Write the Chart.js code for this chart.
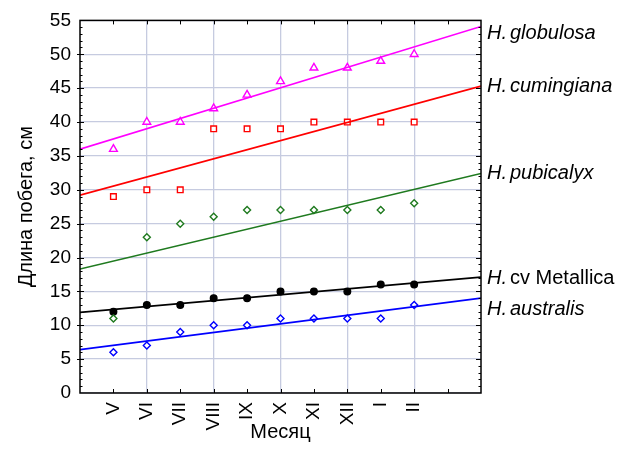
<!DOCTYPE html>
<html>
<head>
<meta charset="utf-8">
<script src="https://cdn.jsdelivr.net/npm/chart.js@4"></script>
<style>
  html, body { margin: 0; padding: 0; background: #fff; }
  #wrap { width: 624px; height: 459px; }
</style>
</head>
<body>
<div id="wrap"><canvas id="myChart"></canvas></div>
<script>
// months, V (May) .. II (February)
const months = ["V", "VI", "VII", "VIII", "IX", "X", "XI", "XII", "I", "II"];
const monthPos = [1, 2, 3, 4, 5, 6, 7, 8, 9, 10];

const species = ["globulosa", "cumingiana", "pubicalyx", "cv Metallica", "australis"];

// shoot length, cm
const globulosa  = [36, 40, 40, 42, 44, 46, 48, 48, 49, 50];
const cumingiana = [29, 30, 30, 39, 39, 39, 40, 40, 40, 40];
const pubicalyx  = [11, 23, 25, 26, 27, 27, 27, 27, 27, 28];
const metallica  = [12, 13, 13, 14, 14, 15, 15, 15, 16, 16];
const australis  = [6, 7, 9, 10, 10, 11, 11, 11, 11, 13];

// fitted trend lines, read at the axis edges (x = 0 and x = 12)
const fitX = [0, 12];
const fitGlobulosa  = [36.0, 54.1];
const fitCumingiana = [29.2, 45.3];
const fitPubicalyx  = [18.3, 32.4];
const fitMetallica  = [11.9, 17.1];
const fitAustralis  = [6.4, 14.0];

const yTicks = [0, 5, 10, 15, 20, 25, 30, 35, 40, 45, 50, 55];

const colors = ["#ff00ff", "#ff0000", "#1f7a1f", "#000000", "#0000ff"];
const gridColor = "#c6cbe0";

function pts(vals) {
  return vals.map((v, i) => ({ x: monthPos[i], y: v }));
}
function fit(vals) {
  return vals.map((v, i) => ({ x: fitX[i], y: v }));
}

const series = [globulosa, cumingiana, pubicalyx, metallica, australis];
const fits = [fitGlobulosa, fitCumingiana, fitPubicalyx, fitMetallica, fitAustralis];
const marks = ["triangle", "rect", "rectRot", "circle", "rectRot"];
const markSize = [4.5, 4, 3.5, 3.3, 3.5];
const filled = [false, false, false, true, false];

const datasets = [];
series.forEach((s, i) => {
  datasets.push({
    type: "line",
    data: fit(fits[i]),
    borderColor: colors[i],
    borderWidth: 1.6,
    pointRadius: 0,
    fill: false
  });
});
series.forEach((s, i) => {
  datasets.push({
    type: "scatter",
    data: pts(s),
    pointStyle: marks[i],
    pointRadius: markSize[i],
    borderColor: colors[i],
    backgroundColor: filled[i] ? colors[i] : "#ffffff",
    pointBorderWidth: 1.4
  });
});

const family = "'Liberation Sans', Arial, sans-serif";

// frame, tick marks and species names at the right end of each line
const framePlugin = {
  id: "frame",
  afterDraw(chart) {
    const { ctx, chartArea: a, scales } = chart;
    const xs = scales.x, ys = scales.y;
    ctx.save();
    ctx.strokeStyle = "#000";
    ctx.lineWidth = 1;
    ctx.beginPath();
    for (let v = 1; v < 12; v++) {
      const px = Math.round(xs.getPixelForValue(v)) + 0.5;
      ctx.moveTo(px, a.top); ctx.lineTo(px, a.top + 4);
      ctx.moveTo(px, a.bottom); ctx.lineTo(px, a.bottom - 4);
    }
    for (let v = 1; v < 55; v++) {
      const py = Math.round(ys.getPixelForValue(v)) + 0.5;
      const major = v % 5 === 0;
      ctx.moveTo(a.right, py); ctx.lineTo(a.right - (major ? 5 : 2.5), py);
      if (major) { ctx.moveTo(a.left - 3, py); ctx.lineTo(a.left + 4, py); }
      else { ctx.moveTo(a.left, py); ctx.lineTo(a.left + 2.5, py); }
    }
    ctx.stroke();
    ctx.lineWidth = 1.5;
    ctx.strokeRect(a.left, a.top, a.right - a.left, a.bottom - a.top);

    const nudge = [7, 0, 0, 1, 11];
    ctx.fillStyle = "#000";
    ctx.textBaseline = "middle";
    ctx.textAlign = "left";
    fits.forEach((f, i) => {
      const y = ys.getPixelForValue(f[1]) + nudge[i];
      let x = a.right + 6;
      ctx.font = "italic 20px " + family;
      ctx.fillText("H.", x, y);
      x += ctx.measureText("H.").width + 3;
      const name = species[i];
      if (name.startsWith("cv ")) {
        ctx.font = "20px " + family;
      }
      ctx.fillText(name, x, y);
    });
    ctx.restore();
  }
};

const tickFont = { family: family, size: 19 };
const titleFont = { family: family, size: 20 };

new Chart("myChart", {
  data: { datasets: datasets },
  options: {
    responsive: true,
    maintainAspectRatio: false,
    animation: false,
    layout: { padding: { left: 0, right: 143, top: 20, bottom: 0 } },
    plugins: {
      legend: { display: false },
      tooltip: { enabled: false }
    },
    scales: {
      x: {
        type: "linear",
        min: 0,
        max: 12,
        afterFit(scale) { scale.height = 66; },
        afterBuildTicks(scale) {
          scale.ticks = [];
          for (let v = 0; v <= 12; v++) scale.ticks.push({ value: v });
        },
        border: { display: false },
        grid: {
          drawTicks: false,
          color(c) {
            const v = c.tick.value;
            return (v % 2 === 0 && v > 0 && v < 12) ? gridColor : "rgba(0,0,0,0)";
          },
          lineWidth: 1.3
        },
        ticks: {
          autoSkip: false,
          minRotation: 90,
          maxRotation: 90,
          padding: 9,
          color: "#000",
          font: tickFont,
          callback(v) {
            const i = monthPos.indexOf(v);
            return i >= 0 ? months[i] : "";
          }
        },
        title: {
          display: true,
          text: "Месяц",
          color: "#000",
          font: titleFont,
          padding: { top: 0, bottom: 15 }
        }
      },
      y: {
        min: 0,
        max: 55,
        afterFit(scale) { scale.width = 80; },
        afterBuildTicks(scale) {
          scale.ticks = yTicks.map(v => ({ value: v }));
        },
        border: { display: false },
        grid: { drawTicks: false, color: gridColor, lineWidth: 1.3 },
        ticks: {
          padding: 9,
          color: "#000",
          font: tickFont
        },
        title: {
          display: true,
          text: "Длина побега, см",
          color: "#000",
          font: titleFont,
          padding: { top: 14, bottom: 0 }
        }
      }
    }
  },
  plugins: [framePlugin]
});
</script>
</body>
</html>
